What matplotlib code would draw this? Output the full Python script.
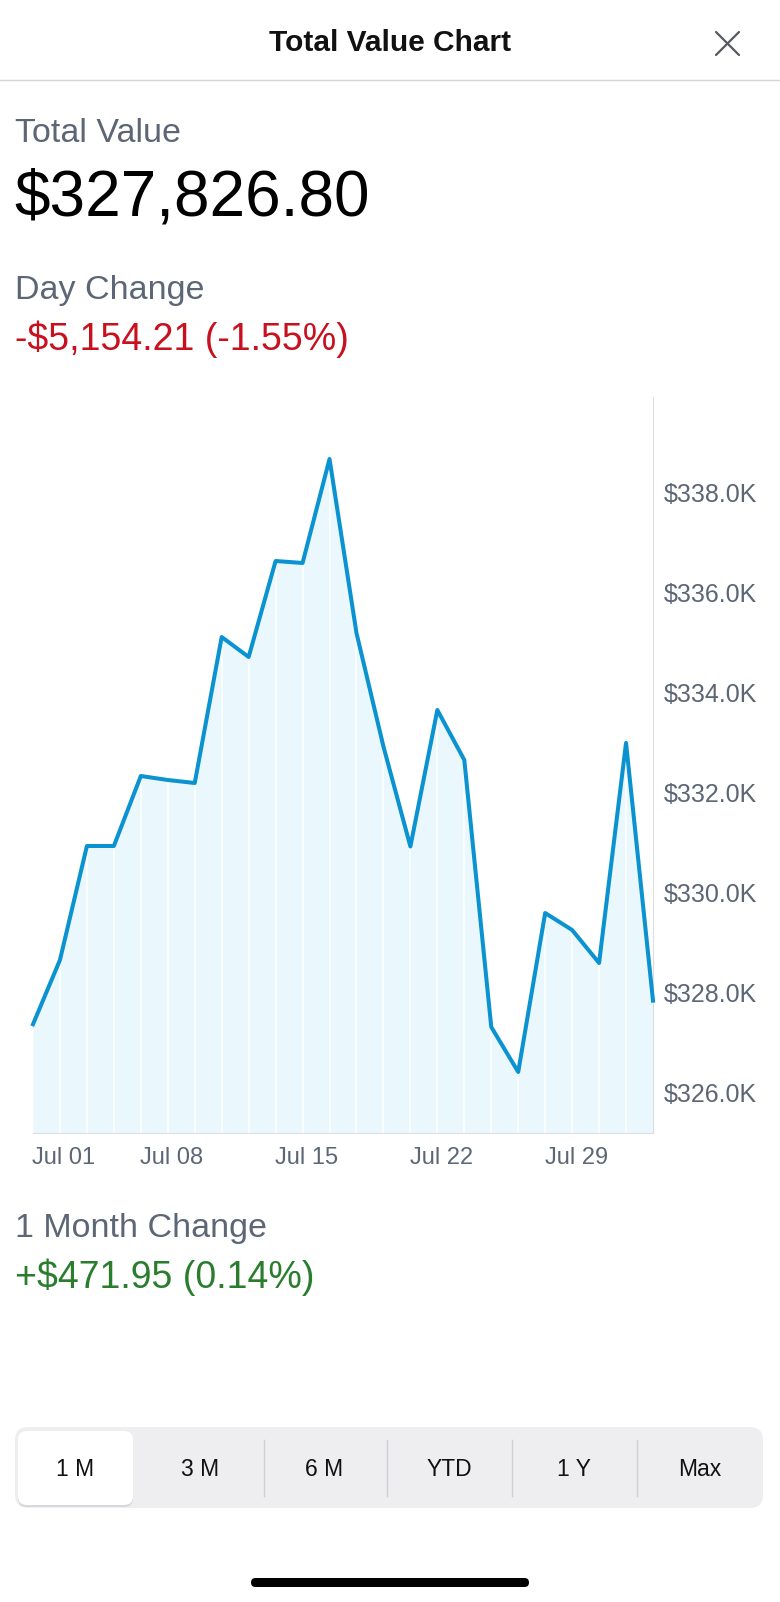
import numpy as np
import matplotlib.pyplot as plt
import matplotlib.transforms as mtransforms
from matplotlib.patches import FancyBboxPatch
from matplotlib.ticker import FuncFormatter

# Trading days shown on the 1 month view
dates = ["Jun 28", "Jul 01", "Jul 02", "Jul 03", "Jul 05", "Jul 08", "Jul 09",
         "Jul 10", "Jul 11", "Jul 12", "Jul 15", "Jul 16", "Jul 17", "Jul 18",
         "Jul 19", "Jul 22", "Jul 23", "Jul 24", "Jul 25", "Jul 26", "Jul 29",
         "Jul 30", "Jul 31", "Aug 01"]
values = [327354.85, 328640, 330920, 330920, 332320, 332240, 332180,
          335100, 334700, 336620, 336580, 338660, 335180, 332910,
          330910, 333640, 332640, 327300, 326400, 329580, 329240,
          328580, 332981.01, 327826.80]
tick_dates = ["Jul 01", "Jul 08", "Jul 15", "Jul 22", "Jul 29"]
y_ticks = [326000, 328000, 330000, 332000, 334000, 336000, 338000]
ranges = ["1 M", "3 M", "6 M", "YTD", "1 Y", "Max"]

W, H = 780, 1602
FONT = "Liberation Sans"
GRAY = "#5c6675"
RED = "#c8101f"
GREEN = "#2b7d2e"
LINE = "#0a93d0"
FILL = "#eaf8fe"

fig = plt.figure(figsize=(W / 100, H / 100), dpi=100)
fig.patch.set_facecolor("white")

# Pixel-space overlay for the app chrome
ui = fig.add_axes([0, 0, 1, 1])
ui.set_xlim(0, W)
ui.set_ylim(H, 0)
ui.axis("off")

# Header
ui.text(390, 51, "Total Value Chart", ha="center", va="baseline",
        fontsize=21.5, fontweight="bold", color="#111111", family=FONT)
ui.plot([716, 739], [32, 55], color="#555a60", lw=1.6, solid_capstyle="round")
ui.plot([716, 739], [55, 32], color="#555a60", lw=1.6, solid_capstyle="round")
ui.plot([0, W], [80, 80], color="#d6d6d8", lw=1)

# Summary texts
ui.text(15, 142, "Total Value", va="baseline", fontsize=24.5, color=GRAY, family=FONT)
ui.text(14, 215, "$327,826.80", va="baseline", fontsize=46, color="black", family=FONT)
ui.text(15, 299, "Day Change", va="baseline", fontsize=24.5, color=GRAY, family=FONT)
ui.text(15, 350, "-$5,154.21 (-1.55%)", va="baseline", fontsize=27, color=RED, family=FONT)
ui.text(15, 1237, "1 Month Change", va="baseline", fontsize=24.5, color=GRAY, family=FONT)
ui.text(15, 1288, "+$471.95 (0.14%)", va="baseline", fontsize=27, color=GREEN, family=FONT)

# Range selector
ui.add_patch(FancyBboxPatch((15, 1427), 748, 81, boxstyle="round,pad=0,rounding_size=13",
                            fc="#eeeef0", ec="none"))
ui.add_patch(FancyBboxPatch((18, 1433), 115, 74, boxstyle="round,pad=0,rounding_size=9",
                            fc="#d8d8dc", ec="none"))
ui.add_patch(FancyBboxPatch((18, 1431), 115, 74, boxstyle="round,pad=0,rounding_size=9",
                            fc="white", ec="none"))
for xd in [264, 387, 512, 637]:
    ui.plot([xd, xd], [1440, 1496], color="#cfcfd4", lw=1)
for label, xc in zip(ranges, [75, 200, 324, 449, 574, 700]):
    ui.text(xc, 1476, label, ha="center", va="baseline", fontsize=16.5,
            color="#111111", family=FONT)

# Home indicator
ui.add_patch(FancyBboxPatch((251, 1578), 278, 9, boxstyle="round,pad=0,rounding_size=4.5",
                            fc="black", ec="none"))

# Chart
ax = fig.add_axes([33 / W, 1 - 1133 / H, 620 / W, 736 / H])
ax.set_facecolor("none")
x = np.arange(len(values))
ymin, ymax = 325180, 339900
ax.fill_between(x, values, ymin, color=FILL, lw=0, zorder=1)
ax.vlines(x[1:-1], ymin, values[1:-1], color="white", lw=1.1, zorder=2)
ax.plot(x, values, color=LINE, lw=2.9, zorder=3, clip_on=False)
ax.set_xlim(0, len(values) - 1)
ax.set_ylim(ymin, ymax)

ax.set_xticks([dates.index(d) for d in tick_dates])
ax.set_xticklabels(tick_dates)
ax.set_yticks(y_ticks)
ax.yaxis.set_major_formatter(FuncFormatter(lambda v, p: f"${v / 1000:.1f}K"))
ax.yaxis.tick_right()
ax.tick_params(axis="y", length=0, pad=8, labelsize=18, labelcolor=GRAY)
ax.tick_params(axis="x", length=0, pad=10, labelsize=17, labelcolor=GRAY)
shift = mtransforms.ScaledTranslation(4 / 100, 0, fig.dpi_scale_trans)
for lab in ax.get_xticklabels():
    lab.set_transform(lab.get_transform() + shift)
for lab in ax.get_xticklabels() + ax.get_yticklabels():
    lab.set_family(FONT)

for side in ["left", "top"]:
    ax.spines[side].set_visible(False)
for side in ["right", "bottom"]:
    ax.spines[side].set_color("#dcdde0")
    ax.spines[side].set_linewidth(0.8)

fig.savefig("out.png", dpi=100, facecolor="white")
